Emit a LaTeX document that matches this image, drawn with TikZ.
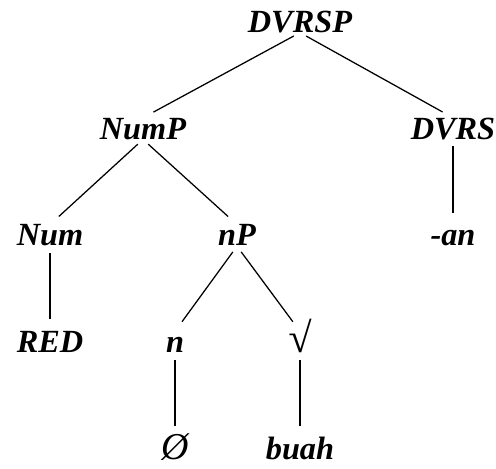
\documentclass[tikz,border=0pt]{standalone}
\usepackage{fontspec}
\setmainfont{Liberation Serif}
\usepackage{tikz}
\usetikzlibrary{positioning}
\tikzstyle{cat} = [inner sep=0pt, text height=15pt, text depth=0pt, font=\fontsize{23}{27}\selectfont\bfseries\itshape]
\tikzstyle{branch} = [line width=0.9pt, shorten <=5pt, shorten >=8.5pt]

\begin{document}
\begin{tikzpicture}[node distance=2.67cm]
\useasboundingbox (-7.5,-11.18) rectangle (4.9,0.545);

\node (dvrsp) [cat] {DVRSP};

\node (nump) [cat, below of=dvrsp, xshift=-3.925cm] {NumP};
\node (dvrs) [cat, below of=dvrsp, xshift=3.825cm] {DVRS};

\node (num) [cat, below of=nump, xshift=-2.325cm] {Num};
\node (np) [cat, below of=nump, xshift=2.35cm] {nP};
\node (an) [cat, below of=dvrs] {-an};

\node (red) [cat, below of=num] {RED};
\node (n) [cat, below of=np, xshift=-1.55cm] {n};
\node (root) [cat, below of=np, xshift=1.575cm] {\fontsize{30}{30}\selectfont √};

\node (null) [cat, below of=n] {\fontsize{27}{27}\selectfont\mdseries Ø};
\node (buah) [cat, below of=root] {buah};

\draw [branch] (dvrsp.south) -- (nump.north);
\draw [branch] (dvrsp.south) -- (dvrs.north);
\draw [branch] (nump.south) -- (num.north);
\draw [branch] (nump.south) -- (np.north);
\draw [branch] (dvrs.south) -- (an.north);
\draw [branch] (num.south) -- (red.north);
\draw [branch] (np.south) -- (n.north);
\draw [branch] (np.south) -- (root.north);
\draw [branch] (n.south) -- (null.north);
\draw [branch] (root.south) -- (buah.north);

\end{tikzpicture}
\end{document}
